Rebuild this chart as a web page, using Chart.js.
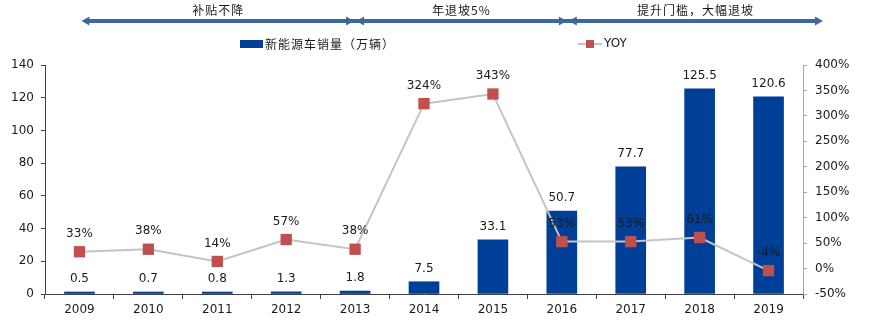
<!DOCTYPE html>
<html>
<head>
<meta charset="utf-8">
<script src="https://cdn.jsdelivr.net/npm/chart.js@4/dist/chart.umd.min.js"></script>
<style>
  html, body { margin: 0; padding: 0; background: #fff; }
  #wrap { width: 871px; height: 328px; position: relative; }
</style>
</head>
<body>
<div id="wrap"><canvas id="evChart"></canvas></div>
<script>
// 2009-2019 new energy vehicle sales and YoY growth
const years = ['2009', '2010', '2011', '2012', '2013', '2014', '2015', '2016', '2017', '2018', '2019'];
const sales = [0.5, 0.7, 0.8, 1.3, 1.8, 7.5, 33.1, 50.7, 77.7, 125.5, 120.6];
const yoy = [33, 38, 14, 57, 38, 324, 343, 53, 53, 61, -4];
const salesTicks = [0, 20, 40, 60, 80, 100, 120, 140];
const yoyTicks = [-50, 0, 50, 100, 150, 200, 250, 300, 350, 400];
const phases = ['补贴不降', '年退坡5%', '提升门槛，大幅退坡'];

const colors = {
    bar: '#003f98',
    line: '#c4c4c4',
    marker: '#c0504d',
    banner: '#3f6899',
    text: '#1a1a1a'
};
const numFont = 'DejaVu Sans';
const cjkFont = '"Noto Sans CJK SC"';

// value labels, legend and the phase banner on top
const decorations = {
    id: 'decorations',
    afterDatasetsDraw(chart) {
        const ctx = chart.ctx;
        ctx.save();
        ctx.font = '12px ' + numFont;
        ctx.fillStyle = colors.text;
        ctx.textAlign = 'center';
        ctx.textBaseline = 'middle';
        chart.getDatasetMeta(0).data.forEach((bar, i) => {
            ctx.fillText(String(sales[i]), bar.x, bar.y - 13);
        });
        chart.getDatasetMeta(1).data.forEach((pt, i) => {
            ctx.fillText(yoy[i] + '%', pt.x, pt.y - 18);
        });
        ctx.restore();
    },
    afterDraw(chart) {
        const ctx = chart.ctx;
        const xs = chart.scales.x;
        const area = chart.chartArea;

        // legend
        ctx.save();
        const ly = 44;
        ctx.fillStyle = colors.bar;
        ctx.fillRect(240, ly - 4, 23, 8);
        ctx.font = '12px ' + cjkFont;
        ctx.letterSpacing = '1px';
        ctx.fillStyle = colors.text;
        ctx.textBaseline = 'middle';
        ctx.fillText('新能源车销量（万辆）', 265, ly);
        ctx.letterSpacing = '0px';
        ctx.strokeStyle = colors.line;
        ctx.lineWidth = 2;
        ctx.beginPath();
        ctx.moveTo(578, ly);
        ctx.lineTo(602, ly);
        ctx.stroke();
        ctx.fillStyle = colors.marker;
        ctx.fillRect(586, ly - 4, 8, 8);
        ctx.font = '12px ' + numFont;
        ctx.fillStyle = colors.text;
        ctx.fillText('YOY', 604, ly);

        // phase banner
        const by = 21;
        const left = xs.getPixelForValue(0) + 2;
        const d1 = xs.getPixelForValue(4);
        const d2 = xs.getPixelForValue(7) + 6;
        const right = area.right + 20;
        ctx.strokeStyle = colors.banner;
        ctx.fillStyle = colors.banner;
        ctx.lineWidth = 4;
        ctx.beginPath();
        ctx.moveTo(left + 6, by);
        ctx.lineTo(right - 6, by);
        ctx.stroke();
        const head = (x, dir) => {
            ctx.beginPath();
            ctx.moveTo(x, by);
            ctx.lineTo(x - dir * 8, by - 4.5);
            ctx.lineTo(x - dir * 8, by + 4.5);
            ctx.closePath();
            ctx.fill();
        };
        head(left, -1);
        head(right, 1);
        [d1, d2].forEach(d => {
            head(d - 1, 1);
            head(d + 1, -1);
        });
        ctx.font = '12px ' + cjkFont;
        ctx.letterSpacing = '1px';
        ctx.fillStyle = colors.text;
        ctx.textAlign = 'center';
        ctx.textBaseline = 'middle';
        const bounds = [left, d1, d2, right];
        phases.forEach((p, i) => {
            ctx.fillText(p, (bounds[i] + bounds[i + 1]) / 2, 10);
        });
        ctx.restore();
    }
};

new Chart(document.getElementById('evChart'), {
    type: 'bar',
    data: {
        labels: years,
        datasets: [{
            type: 'bar',
            label: '新能源车销量（万辆）',
            data: sales,
            backgroundColor: colors.bar,
            barThickness: 30,
            minBarLength: 2,
            yAxisID: 'y',
            order: 2
        }, {
            type: 'line',
            label: 'YOY',
            data: yoy,
            borderColor: colors.line,
            borderWidth: 2,
            pointStyle: 'rect',
            pointRadius: 8,
            pointBackgroundColor: colors.marker,
            pointBorderColor: colors.marker,
            pointBorderWidth: 0,
            tension: 0,
            yAxisID: 'y1',
            order: 1
        }]
    },
    options: {
        responsive: true,
        maintainAspectRatio: false,
        animation: false,
        layout: { padding: { top: 65, left: 0, right: 0, bottom: 0 } },
        plugins: {
            legend: { display: false },
            tooltip: { enabled: false }
        },
        scales: {
            x: {
                offset: true,
                grid: { display: true, drawOnChartArea: false, offset: true, tickLength: 5, color: '#404040' },
                border: { color: '#404040', width: 1 },
                ticks: { font: { family: numFont, size: 12 }, color: colors.text, padding: 4, maxRotation: 0 },
                afterFit(scale) { scale.height = 34; }
            },
            y: {
                position: 'left',
                min: 0,
                max: 140,
                afterBuildTicks(scale) { scale.ticks = salesTicks.map(v => ({ value: v })); },
                grid: { drawOnChartArea: false, tickLength: 4, color: '#404040' },
                border: { color: '#404040', width: 1 },
                ticks: { font: { family: numFont, size: 12 }, color: colors.text, padding: 7 },
                afterFit(scale) { scale.width = 45; }
            },
            y1: {
                position: 'right',
                min: -50,
                max: 400,
                afterBuildTicks(scale) { scale.ticks = yoyTicks.map(v => ({ value: v })); },
                grid: { drawOnChartArea: false, tickLength: 4, color: '#a6a6a6' },
                border: { color: '#a6a6a6', width: 1 },
                ticks: { font: { family: numFont, size: 12 }, color: colors.text, padding: 8, callback: v => v + '%' },
                afterFit(scale) { scale.width = 68; }
            }
        }
    },
    plugins: [decorations]
});
</script>
</body>
</html>
